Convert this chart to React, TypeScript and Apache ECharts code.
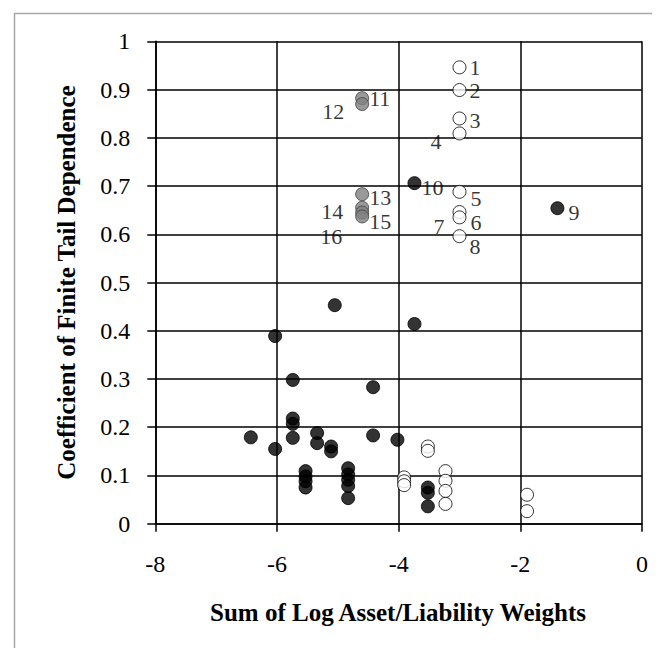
import React, { useEffect, useRef } from "react";
import * as echarts from "echarts";

// Black filled points
const blackX = [-1.39, -3.74, -5.05, -6.03, -5.74, -5.74, -5.74, -5.74, -6.43, -6.03, -5.34, -5.34, -5.11, -5.11, -5.53, -5.53, -5.53, -5.53, -4.83, -4.83, -4.83, -4.83, -4.83, -3.74, -4.42, -4.42, -4.02, -3.52, -3.52, -3.52];
const blackY = [0.654, 0.706, 0.453, 0.389, 0.298, 0.218, 0.207, 0.178, 0.179, 0.155, 0.188, 0.167, 0.16, 0.15, 0.109, 0.098, 0.088, 0.075, 0.115, 0.102, 0.091, 0.078, 0.053, 0.414, 0.283, 0.183, 0.174, 0.075, 0.064, 0.036];
const blackLabels = ["9", "10", "", "", "", "", "", "", "", "", "", "", "", "", "", "", "", "", "", "", "", "", "", "", "", "", "", "", "", ""];

// Open (white) points
const openX = [-3.0, -3.0, -3.0, -3.0, -3.0, -3.0, -3.0, -3.0, -3.52, -3.52, -3.91, -3.91, -3.91, -3.23, -3.23, -3.23, -3.23, -1.89, -1.89];
const openY = [0.946, 0.899, 0.84, 0.809, 0.688, 0.646, 0.635, 0.596, 0.16, 0.151, 0.096, 0.088, 0.08, 0.109, 0.089, 0.068, 0.041, 0.06, 0.026];
const openLabels = ["1", "2", "3", "4", "5", "6", "7", "8", "", "", "", "", "", "", "", "", "", "", ""];

// Grey points
const greyX = [-4.6, -4.6, -4.6, -4.6, -4.6, -4.6];
const greyY = [0.882, 0.87, 0.683, 0.655, 0.645, 0.637];
const greyLabels = ["11", "12", "13", "14", "15", "16"];

const xTicks = [-8, -6, -4, -2, 0];
const yTicks = [0, 0.1, 0.2, 0.3, 0.4, 0.5, 0.6, 0.7, 0.8, 0.9, 1];

const xTitle = "Sum of Log Asset/Liability Weights";
const yTitle = "Coefficient of Finite Tail Dependence";

// label placement (style only): [position, distance, dy]
const labelPlace: Record<string, [string, number, number]> = {
  "1": ["right", 3, 0],
  "2": ["right", 3, 0],
  "3": ["right", 3, 2],
  "4": ["left", 11, 8],
  "5": ["right", 4, 7],
  "6": ["right", 4, 10],
  "7": ["left", 8, 9],
  "8": ["right", 3, 10],
  "9": ["right", 4, 4],
  "10": ["right", 0, 4],
  "11": ["right", 0, 0],
  "12": ["left", 11, 7],
  "13": ["right", 0, 3],
  "14": ["left", 12, 4],
  "15": ["right", 0, 9],
  "16": ["left", 13, 20],
};

const FONT = "'Liberation Serif', 'Times New Roman', serif";

function buildData(xs: number[], ys: number[], labels: string[]) {
  return xs.map((x, i) => {
    const lab = labels[i];
    const item: any = { value: [x, ys[i]] };
    if (lab) {
      const p = labelPlace[lab] || ["right", 3, 0];
      item.label = {
        show: true,
        formatter: lab,
        position: p[0],
        distance: p[1],
        offset: [0, p[2]],
        color: "#000",
        fontFamily: FONT,
        fontSize: 22,
      };
    }
    return item;
  });
}

export default function App() {
  const ref = useRef<HTMLDivElement>(null);
  useEffect(() => {
    if (!ref.current) return;
    const chart = echarts.init(ref.current, null, { renderer: "svg" });
    const markerSize = 13;
    chart.setOption({
      animation: false,
      backgroundColor: "#fff",
      grid: { left: 147.3, right: 26, top: 33.3, bottom: 132.3, containLabel: false },
      xAxis: {
        type: "value",
        min: xTicks[0],
        max: xTicks[xTicks.length - 1],
        interval: 2,
        axisLine: { show: true, onZero: false, lineStyle: { color: "#000", width: 1.6 } },
        axisTick: { show: true, inside: false, length: 8, lineStyle: { color: "#000", width: 1.5 } },
        axisLabel: { color: "#000", fontFamily: FONT, fontSize: 24, margin: 28 },
        splitLine: { show: true, lineStyle: { color: "#000", width: 1.5 } },
      },
      yAxis: {
        type: "value",
        min: yTicks[0],
        max: yTicks[yTicks.length - 1],
        interval: 0.1,
        axisLine: { show: true, onZero: false, lineStyle: { color: "#000", width: 1.6 } },
        axisTick: { show: true, inside: false, length: 8, lineStyle: { color: "#000", width: 1.5 } },
        axisLabel: {
          color: "#000",
          fontFamily: FONT,
          fontSize: 24,
          margin: 25,
          formatter: (v: number) => (Math.round(v * 10) / 10).toString(),
        },
        splitLine: { show: true, lineStyle: { color: "#000", width: 1.5 } },
      },
      graphic: [
        {
          type: "rect",
          shape: { x: 6.5, y: 5.5, width: 700, height: 700 },
          style: { fill: "none", stroke: "#a6a6a6", lineWidth: 1.5 },
          silent: true,
          z: -10,
        },
        {
          type: "text",
          x: 390,
          y: 604,
          style: {
            text: xTitle,
            fontFamily: FONT,
            fontWeight: "bold",
            fontSize: 25,
            fill: "#000",
            align: "center",
            verticalAlign: "middle",
          },
        },
        {
          type: "text",
          x: 58,
          y: 274.5,
          rotation: Math.PI / 2,
          style: {
            text: yTitle,
            fontFamily: FONT,
            fontWeight: "bold",
            fontSize: 25,
            fill: "#000",
            align: "center",
            verticalAlign: "middle",
          },
        },
      ],
      series: [
        {
          type: "scatter",
          symbol: "circle",
          symbolSize: markerSize,
          data: buildData(blackX, blackY, blackLabels),
          itemStyle: { color: "#000", borderColor: "#000", borderWidth: 1 },
          z: 3,
        },
        {
          type: "scatter",
          symbol: "circle",
          symbolSize: markerSize,
          data: buildData(openX, openY, openLabels),
          itemStyle: { color: "#fff", borderColor: "#000", borderWidth: 1 },
          z: 3,
        },
        {
          type: "scatter",
          symbol: "circle",
          symbolSize: markerSize,
          data: buildData(greyX, greyY, greyLabels),
          itemStyle: { color: "#808080", borderColor: "#404040", borderWidth: 1 },
          z: 3,
        },
      ],
    });
    return () => chart.dispose();
  }, []);
  return <div ref={ref} style={{ width: 660, height: 648 }} />;
}
